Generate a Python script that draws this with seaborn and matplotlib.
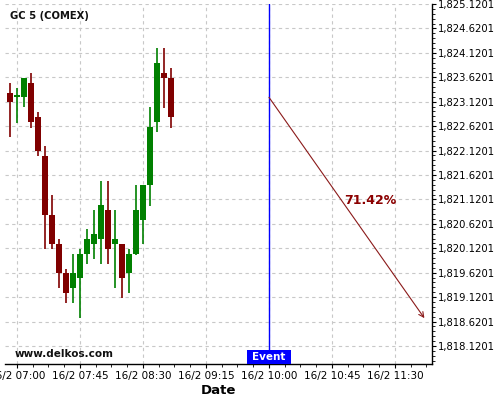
import matplotlib
matplotlib.use("Agg")
import matplotlib.pyplot as plt
import matplotlib.dates as mdates
import matplotlib.transforms as mtransforms
from matplotlib.patches import Rectangle
from matplotlib.ticker import FuncFormatter, MultipleLocator, FixedLocator
import seaborn as sns
import pandas as pd
import numpy as np

# ---- data ----
start_time = "2021-02-16 06:55"
n_candles = 24
opens = [1823.30, 1823.22, 1823.22, 1823.50, 1822.80, 1822.01, 1820.80, 1820.21,
         1819.61, 1819.31, 1819.52, 1820.01, 1820.21, 1820.31, 1820.90, 1820.21,
         1820.21, 1819.62, 1820.00, 1820.70, 1821.41, 1822.71, 1823.71, 1823.60]
highs = [1823.50, 1823.40, 1823.61, 1823.70, 1822.90, 1822.21, 1821.21, 1820.30,
         1819.70, 1820.00, 1820.11, 1820.51, 1820.90, 1821.49, 1821.49, 1820.90,
         1820.21, 1820.11, 1821.41, 1821.42, 1823.01, 1824.21, 1824.21, 1823.80]
lows = [1822.39, 1822.69, 1823.01, 1822.59, 1822.00, 1820.10, 1820.10, 1819.30,
        1818.99, 1818.99, 1818.69, 1819.79, 1819.90, 1819.79, 1819.79, 1819.30,
        1819.10, 1819.20, 1819.98, 1820.21, 1820.99, 1822.49, 1823.00, 1822.59]
closes = [1823.12, 1823.25, 1823.60, 1822.71, 1822.12, 1820.81, 1820.21, 1819.62,
          1819.21, 1819.61, 1820.00, 1820.31, 1820.41, 1821.01, 1820.11, 1820.31,
          1819.52, 1820.00, 1820.90, 1821.41, 1822.60, 1823.92, 1823.61, 1822.81]

title = "GC 5 (COMEX)"
watermark = "www.delkos.com"
event_time = "2021-02-16 10:00"
event_label = "Event"
arrow_start_time, arrow_start_val = "2021-02-16 10:00", 1823.21
arrow_end_time, arrow_end_val = "2021-02-16 11:51", 1818.69
pct_label = "71.42%"
pct_time, pct_val = "2021-02-16 11:12", 1821.09
xlim_times = ["2021-02-16 06:51:26", "2021-02-16 11:56:26"]
ylim_vals = [1817.7516, 1825.1201]
xtick_start = "2021-02-16 07:00"

# ---- styling ----
sns.set_theme(style="whitegrid")
plt.rcParams['font.family'] = ['DejaVu Sans']

times = pd.date_range(start_time, periods=n_candles, freq="5min")
df = pd.DataFrame({"time": times, "open": opens, "high": highs,
                   "low": lows, "close": closes})
df["x"] = mdates.date2num(df["time"].dt.to_pydatetime())
df["up"] = df["close"] >= df["open"]
green, red = "#008000", "#800000"
df["color"] = np.where(df["up"], green, red)

fig = plt.figure(figsize=(5, 4), dpi=100)
ax = fig.add_axes([0.01, 0.09, 0.854, 0.9])
ax.set_facecolor("white")

minute = 1.0 / 1440.0
# wicks
ax.vlines(df["x"], df["low"], df["high"], colors=df["color"], linewidth=1.2, zorder=3)
# bodies
body_bottom = np.minimum(df["open"], df["close"])
body_height = np.maximum(np.abs(df["close"] - df["open"]), 0.02)
ax.bar(df["x"], body_height, bottom=body_bottom, width=3.6 * minute,
       color=df["color"], edgecolor="none", zorder=4)

tn = lambda s: mdates.date2num(pd.Timestamp(s).to_pydatetime())

ax.set_xlim(tn(xlim_times[0]), tn(xlim_times[1]))
ax.set_ylim(*ylim_vals)

# x ticks
major_x = pd.date_range(xtick_start, periods=7, freq="45min")
minor_x = pd.date_range("2021-02-16 06:48:45", periods=30, freq="675s")
ax.xaxis.set_major_locator(FixedLocator(mdates.date2num(major_x.to_pydatetime())))
ax.xaxis.set_minor_locator(FixedLocator(mdates.date2num(minor_x.to_pydatetime())))
ax.xaxis.set_major_formatter(FuncFormatter(
    lambda v, p: (lambda d: f"{d.day}/{d.month} {d:%H:%M}")(mdates.num2date(v))))

# y ticks
ax.yaxis.set_major_locator(MultipleLocator(0.5, offset=0.1201))
ax.yaxis.set_minor_locator(MultipleLocator(0.1, offset=0.0201))
ax.yaxis.set_major_formatter(FuncFormatter(lambda v, p: f"{v:,.4f}"))
ax.yaxis.tick_right()

ax.tick_params(axis="y", which="major", right=True, left=False, labelright=True,
               labelleft=False, length=3, width=0.8, direction="out",
               colors="black", labelsize=7.2, pad=1)
ax.tick_params(axis="y", which="minor", right=True, left=False, length=2,
               width=0.6, direction="out", color="black")
ax.tick_params(axis="x", which="major", bottom=True, length=3, width=0.8,
               direction="out", colors="black", labelsize=7.5, pad=2)
ax.tick_params(axis="x", which="minor", bottom=True, length=2, width=0.6,
               direction="out", color="black")

ax.grid(True, which="major", color="#c8c8c8", linestyle=(0, (3, 3)), linewidth=0.8)
ax.grid(False, which="minor")

for s in ["left", "top"]:
    ax.spines[s].set_visible(False)
for s in ["right", "bottom"]:
    ax.spines[s].set_visible(True)
    ax.spines[s].set_color("black")
    ax.spines[s].set_linewidth(1.0)

ax.set_xlabel("Date", fontsize=9.5, fontweight="bold", color="black", labelpad=2)

# event line & label
ev = tn(event_time)
ax.axvline(ev, color="blue", linewidth=1.0, zorder=5)
blend = mtransforms.blended_transform_factory(ax.transData, ax.transAxes)
ax.add_patch(Rectangle((ev - 15.7 * minute, 0.0), 31.4 * minute, 14 / 360,
                       transform=blend, facecolor="blue", edgecolor="none",
                       zorder=6, clip_on=False))
ax.text(ev, 7 / 360, event_label, transform=blend, ha="center", va="center",
        color="white", fontsize=7.5, fontweight="bold", zorder=7)

# arrow
ax.annotate("", xy=(tn(arrow_end_time), arrow_end_val),
            xytext=(tn(arrow_start_time), arrow_start_val),
            arrowprops=dict(arrowstyle="->", color="#8b1a1a", lw=0.8,
                            mutation_scale=9, shrinkA=0, shrinkB=0), zorder=6)
ax.text(tn(pct_time), pct_val, pct_label, color="#8b0000", fontsize=9,
        fontweight="bold", ha="center", va="center", zorder=7)

ax.text(0.012, 0.967, title, transform=ax.transAxes, ha="left", va="center",
        fontsize=7.2, fontweight="bold", color="#111111", zorder=7)
ax.text(0.023, 0.028, watermark, transform=ax.transAxes, ha="left", va="center",
        fontsize=7.5, fontweight="bold", color="#111111", zorder=7)

fig.savefig("out.png", dpi=100, facecolor="white")
